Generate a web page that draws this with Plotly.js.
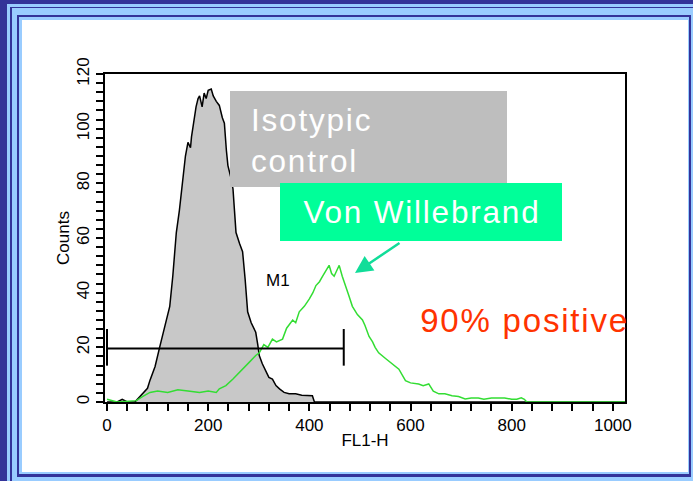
<!DOCTYPE html>
<html>
<head>
<meta charset="utf-8">
<script src="https://cdn.plot.ly/plotly-3.0.1.min.js"></script>
<style>
  html, body { margin: 0; padding: 0; background: #333399; overflow: hidden; }
  #frame { position: absolute; left: 0; top: 0; width: 693px; height: 481px; }
  #frame div { position: absolute; }
  #chart { position: absolute; left: 0; top: 0; width: 693px; height: 481px; }
  #chart .annotation[data-index="0"] text,
  #chart .annotation[data-index="1"] text,
  #chart .annotation[data-index="2"] text { letter-spacing: 1.8px; }
</style>
</head>
<body>
<div id="frame"></div>
<div id="chart"></div>
<script>
// ---- Data ----
// Isotypic control histogram (FL1-H channel, counts)
const isoX = [0, 20, 30, 40, 55, 60, 70, 80, 85, 95, 104, 115, 124, 130, 137, 143, 150, 155, 160, 165, 167, 172, 176, 180, 183, 188, 192, 196, 200, 206, 210, 216, 222, 228, 232, 236, 239, 245, 249, 252, 255, 262, 268, 273, 278, 285, 294, 298, 301, 307, 314, 320, 327, 334, 341, 350, 360, 373, 385, 395, 406, 410, 1024];
const isoY = [0, 0, 1, 0, 0, 1, 3, 5, 8, 13, 20, 28, 35, 46, 62, 70, 82, 90, 95, 93, 97, 104, 108, 111, 112, 108, 113, 111, 114, 114.5, 112, 110, 108.5, 104, 102, 92, 86.5, 82, 78, 70, 62, 58, 55, 45, 33, 29, 25.5, 21, 17, 14, 11, 9, 8.4, 6, 4.8, 3.5, 3, 3, 2.5, 2.3, 2.3, 0, 0];
// Von Willebrand histogram
const vwfX = [0, 10, 20, 58, 70, 85, 100, 120, 140, 160, 183, 200, 216, 222, 235, 249, 262, 281, 294, 301, 310, 318, 327, 335, 347, 355, 367, 373, 380, 390, 400, 407, 413, 420, 426, 432, 439, 444, 449, 454, 459, 465, 472, 478, 485, 495, 505, 510, 518, 525, 530, 537, 550, 564, 577, 590, 600, 616, 625, 636, 645, 656, 668, 682, 695, 708, 720, 734, 745, 760, 775, 786, 800, 810, 819, 825, 830, 1024];
const vwfY = [1, 0.5, 0, 0.5, 2, 3.5, 4, 3.5, 4.5, 4, 3.5, 4, 3.5, 4.8, 6, 8.4, 11, 14.5, 17, 18, 21, 20, 23, 22, 23, 27, 30, 29, 33, 35, 37.7, 40, 42.6, 44, 46, 48, 50, 47, 46, 48, 50, 46, 42.6, 39, 35, 32, 30, 28, 24, 22, 20, 18, 16, 14, 12, 7.8, 7, 6.6, 6, 6.6, 4, 3, 3, 2.3, 2, 1.1, 1.5, 1.5, 1, 1.5, 1.5, 1.5, 1, 1, 1.5, 1, 0, 0];
// M1 marker gate
const m1Start = 0;
const m1End = 468;
const m1Level = 19.6;
const m1CapLow = 13.3;
const m1CapHigh = 26.7;
// Axis ticks: labelled ticks and the number of small ticks between them
const xTickLabels = [0, 200, 400, 600, 800, 1000];
const xSubdivisions = 5;
const yTickLabels = [0, 20, 40, 60, 80, 100, 120];
const ySubdivisions = 6;
// Texts
const xTitle = 'FL1-H';
const yTitle = 'Counts';
const isoLabel = 'Isotypic<br>control';
const vwfLabel = 'Von Willebrand';
const posLabel = '90% positive';
const m1Label = 'M1';

// build tick positions: labelled ticks plus unlabelled subdivisions
function buildTicks(labels, sub) {
  const vals = [], text = [];
  for (let i = 0; i < labels.length; i++) {
    vals.push(labels[i]); text.push(String(labels[i]));
    if (i < labels.length - 1) {
      const step = (labels[i + 1] - labels[i]) / sub;
      for (let k = 1; k < sub; k++) { vals.push(labels[i] + k * step); text.push(''); }
    }
  }
  return { vals, text };
}
const xT = buildTicks(xTickLabels, xSubdivisions);
const yT = buildTicks(yTickLabels, ySubdivisions);

// ---- Decorative slide frame (nested blue borders), drawn behind the chart ----
const DARK = '#333399', LIGHT = '#99ccff';
const frameRects = [
  [7, 4, 693, 481, LIGHT],
  [10, 7, 693, 481, DARK],
  [12, 8, 693, 481, LIGHT],
  [17, 15, 691, 477, DARK],
  [19, 17, 689, 474, LIGHT],
  [22, 20, 688, 472, '#ffffff']
];
const frameEl = document.getElementById('frame');
frameRects.forEach(([x0, y0, x1, y1, c]) => {
  const d = document.createElement('div');
  d.style.left = x0 + 'px'; d.style.top = y0 + 'px';
  d.style.width = (x1 - x0) + 'px'; d.style.height = (y1 - y0) + 'px';
  d.style.background = c;
  frameEl.appendChild(d);
});

// ---- Layout geometry (pixels) ----
const W = 693, H = 481;
const M = { l: 105, r: 68, t: 74, b: 79 };
const PW = W - M.l - M.r, PH = H - M.t - M.b;
const px = x => (x - M.l) / PW;          // pixel x -> paper
const py = y => (H - M.b - y) / PH;      // pixel y -> paper

function rect(x0, y0, x1, y1, color) {
  return { type: 'rect', xref: 'paper', yref: 'paper', x0: px(x0), x1: px(x1), y0: py(y1), y1: py(y0),
           fillcolor: color, line: { width: 0 }, layer: 'above' };
}
const shapes = [
  rect(230, 91, 507, 187, '#bebebe'),
  rect(280, 183, 562, 241, '#00ff99')
];

const bigFont = 'Liberation Sans, Arial, sans-serif';
const axFont = 'Liberation Sans, Arial, sans-serif';

const traces = [
  { x: isoX, y: isoY, type: 'scatter', mode: 'lines', fill: 'tozeroy',
    fillcolor: '#c8c8c8', line: { color: '#000000', width: 1.5 }, hoverinfo: 'skip' },
  { x: vwfX, y: vwfY, type: 'scatter', mode: 'lines',
    line: { color: '#33dd33', width: 1.5 }, hoverinfo: 'skip' },
  { x: [m1Start, m1Start, null, m1Start, m1End, null, m1End, m1End],
    y: [m1CapLow, m1CapHigh, null, m1Level, m1Level, null, m1CapLow, m1CapHigh],
    type: 'scatter', mode: 'lines', line: { color: '#000000', width: 2 }, hoverinfo: 'skip' }
];

const layout = {
  width: W, height: H,
  margin: M,
  paper_bgcolor: 'rgba(0,0,0,0)',
  plot_bgcolor: '#ffffff',
  showlegend: false,
  shapes: shapes,
  xaxis: {
    range: [-4, 1024], tickmode: 'array', tickvals: xT.vals, ticktext: xT.text,
    ticks: 'outside', ticklen: 7, tickwidth: 2, tickcolor: '#000',
    showline: true, linecolor: '#000', linewidth: 2, mirror: true,
    showgrid: false, zeroline: false,
    tickfont: { family: axFont, size: 17, color: '#000' },
    title: { text: xTitle, font: { family: axFont, size: 17, color: '#000' }, standoff: 0 }
  },
  yaxis: {
    range: [0, 120], tickmode: 'array', tickvals: yT.vals, ticktext: yT.text, tickangle: -90,
    ticks: 'outside', ticklen: 7, tickwidth: 2, tickcolor: '#000',
    showline: true, linecolor: '#000', linewidth: 2, mirror: true,
    showgrid: false, zeroline: false,
    tickfont: { family: axFont, size: 17, color: '#000' },
    title: { text: yTitle, font: { family: axFont, size: 17, color: '#000' }, standoff: 0 }
  },
  annotations: [
    { xref: 'paper', yref: 'paper', x: px(249), y: py(140), xanchor: 'left', yanchor: 'middle',
      text: isoLabel, align: 'left', showarrow: false,
      font: { family: bigFont, size: 31.5, color: '#ffffff' } },
    { xref: 'paper', yref: 'paper', x: px(422), y: py(212), xanchor: 'center', yanchor: 'middle',
      text: vwfLabel, showarrow: false,
      font: { family: bigFont, size: 31.5, color: '#ffffff' } },
    { xref: 'paper', yref: 'paper', x: px(524), y: py(320), xanchor: 'center', yanchor: 'middle',
      text: posLabel, showarrow: false,
      font: { family: bigFont, size: 33, color: '#ff3300' } },
    { xref: 'paper', yref: 'paper', x: px(278), y: py(280), xanchor: 'center', yanchor: 'middle',
      text: m1Label, showarrow: false,
      font: { family: axFont, size: 17, color: '#000' } },
    { xref: 'paper', yref: 'paper', x: px(355), y: py(273), text: '', showarrow: true,
      ax: 46, ay: -31, arrowcolor: '#11dd99', arrowwidth: 2.5, arrowhead: 2, arrowsize: 1.4, standoff: 0 }
  ]
};

Plotly.newPlot('chart', traces, layout, { staticPlot: true, displayModeBar: false });
</script>
</body>
</html>
